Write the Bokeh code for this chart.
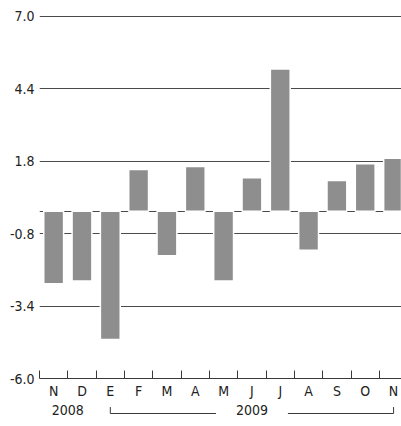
from bokeh.plotting import figure
from bokeh.layouts import column
from bokeh.models import (ColumnDataSource, FixedTicker, LinearAxis,
                          PrintfTickFormatter, Range1d)
from bokeh.core.properties import value
from bokeh.embed import file_html
from bokeh.resources import INLINE

# ---- data ----
months = ["N", "D", "E", "F", "M", "A", "M", "J", "J", "A", "S", "O", "N"]
values = [-2.6, -2.5, -4.6, 1.5, -1.6, 1.6, -2.5, 1.2, 5.1, -1.4, 1.1, 1.7, 1.9]
y_ticks = [-6.0, -3.4, -0.8, 1.8, 4.4, 7.0]
years = ["2008", "2009"]
year_pos = [1.0, 7.5]          # centre of the months of each year
year_span = (2.5, 12.5)        # bracket of 2009: from E to N

FONT = "'DejaVu Sans Condensed', 'Liberation Sans', sans-serif"
DARK = "#3a3a3a"
TXT = "#222222"

W = 401
LEFT = 39

x = [i + 0.5 for i in range(len(values))]
src = ColumnDataSource(dict(x=x, top=values, bottom=[0] * len(values)))
xr = Range1d(0, 12.78)

p = figure(width=W, height=401, output_backend="svg", toolbar_location=None,
           x_range=xr, y_range=Range1d(-6.0, 7.02),
           min_border_left=LEFT, min_border_right=0, min_border_top=15,
           min_border_bottom=21, x_axis_location=None)
p.outline_line_color = None
p.background_fill_color = "white"
p.border_fill_color = "white"

p.vbar(x="x", top="top", bottom="bottom", width=0.7, source=src,
       fill_color="#8e8e8e", line_color="white", line_width=1.5)

# y axis
p.yaxis.ticker = FixedTicker(ticks=y_ticks)
p.yaxis.formatter = PrintfTickFormatter(format="%.1f")
p.yaxis.axis_line_color = None
p.yaxis.major_tick_line_color = None
p.yaxis.minor_tick_line_color = None
p.yaxis.major_tick_out = 0
p.yaxis.major_tick_in = 0
p.yaxis.major_label_standoff = 5
p.yaxis.major_label_text_font = FONT
p.yaxis.major_label_text_font_size = "14px"
p.yaxis.major_label_text_color = TXT

p.xgrid.visible = False
p.ygrid.ticker = FixedTicker(ticks=y_ticks + [0.0])
p.ygrid.grid_line_color = "#4a4a4a"
p.ygrid.grid_line_width = 1

# month axis (ticks at boundaries, labels at centres)
xa = LinearAxis(ticker=FixedTicker(ticks=x, minor_ticks=list(range(len(values) + 1))))
xa.major_label_overrides = {xi: m for xi, m in zip(x, months)}
xa.major_tick_in = 0
xa.major_tick_out = 0
xa.major_tick_line_color = None
xa.minor_tick_in = 8
xa.minor_tick_out = 0
xa.minor_tick_line_color = DARK
xa.axis_line_color = DARK
xa.major_label_standoff = 4
xa.major_label_text_font = FONT
xa.major_label_text_font_size = "14px"
xa.major_label_text_color = TXT
p.add_layout(xa, "below")

# ---- year strip below (shares the horizontal scale) ----
s = figure(width=W, height=25, output_backend="svg", toolbar_location=None,
           x_range=xr, y_range=Range1d(0, 25),
           min_border_left=LEFT, min_border_right=0, min_border_top=0,
           min_border_bottom=0, x_axis_location=None, y_axis_location=None)
s.outline_line_color = None
s.grid.visible = False
s.border_fill_color = "white"
s.background_fill_color = "white"

gap = 1.27
s.segment(x0=[year_span[0], year_pos[1] + gap, year_span[0], year_span[1]],
          x1=[year_pos[1] - gap, year_span[1], year_span[0], year_span[1]],
          y0=[13, 13, 13, 13], y1=[13, 13, 19.5, 19.5],
          line_color=DARK, line_width=1)
s.text(x=year_pos, y=[17, 17], text=years, text_align="center",
       text_baseline="middle", text_font=value(FONT),
       text_font_size="14px", text_color=TXT)

layout = column(p, s, spacing=0)
open("out.html", "w").write(file_html(layout, INLINE))
